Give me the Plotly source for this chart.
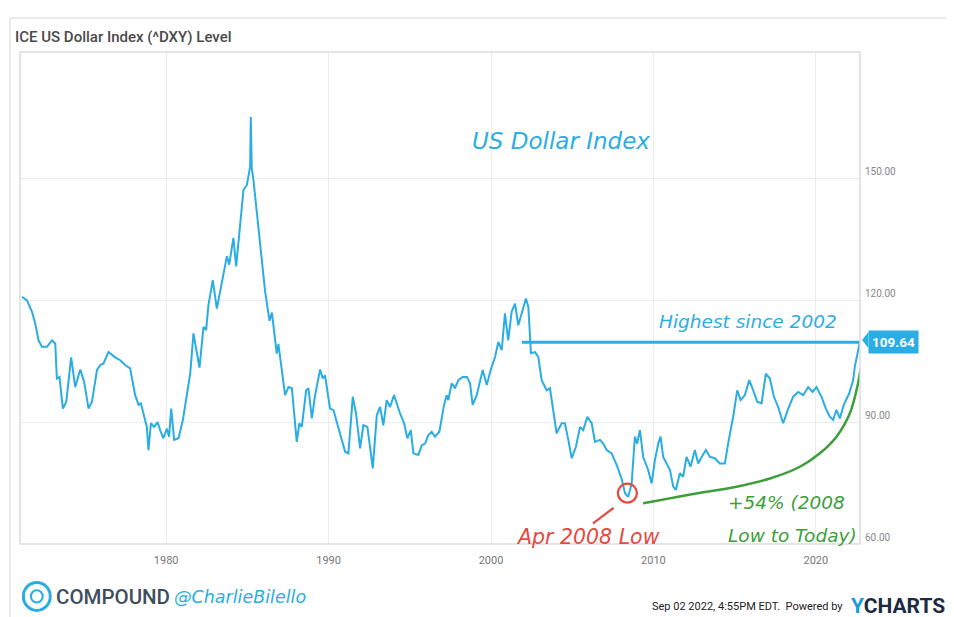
import plotly.graph_objects as go

# ---- data (decimal year, index level) ----
years = [1971.12, 1971.43, 1971.74, 1971.94, 1972.14, 1972.35, 1972.66, 1972.97, 1973.17, 1973.27,
         1973.43, 1973.64, 1973.85, 1974.15, 1974.40, 1974.71, 1974.95, 1975.22, 1975.43, 1975.74,
         1975.94, 1976.14, 1976.45, 1976.86, 1977.17, 1977.48, 1977.78, 1978.09, 1978.30, 1978.44,
         1978.65, 1978.81, 1978.91, 1979.06, 1979.26, 1979.47, 1979.63, 1979.83, 1980.04, 1980.18,
         1980.31, 1980.49, 1980.76, 1981.03, 1981.27, 1981.48, 1981.68, 1982.05, 1982.30, 1982.46,
         1982.60, 1982.87, 1983.12, 1983.32, 1983.57, 1983.74, 1983.88, 1984.14, 1984.31, 1984.62,
         1984.76, 1984.97, 1985.17, 1985.21, 1985.27, 1985.37, 1985.68, 1985.89, 1986.09, 1986.36,
         1986.51, 1986.81, 1986.91, 1987.32, 1987.53, 1987.74, 1988.04, 1988.20, 1988.35, 1988.62,
         1988.76, 1988.97, 1989.17, 1989.48, 1989.64, 1989.78, 1990.09, 1990.30, 1990.71, 1991.02,
         1991.22, 1991.49, 1991.69, 1991.94, 1992.14, 1992.39, 1992.55, 1992.72, 1992.97, 1993.17,
         1993.37, 1993.58, 1993.78, 1994.03, 1994.40, 1994.65, 1994.85, 1995.06, 1995.22, 1995.53,
         1995.74, 1995.94, 1996.14, 1996.35, 1996.55, 1996.82, 1997.11, 1997.27, 1997.37, 1997.58,
         1997.78, 1997.99, 1998.26, 1998.51, 1998.71, 1998.87, 1999.12, 1999.49, 1999.74, 1999.98,
         2000.25, 2000.45, 2000.66, 2000.86, 2001.06, 2001.27, 2001.48, 2001.68, 2001.89, 2002.15,
         2002.30, 2002.46, 2002.71, 2002.91, 2003.12, 2003.43, 2003.63, 2003.80, 2004.04, 2004.35,
         2004.55, 2004.76, 2004.97, 2005.23, 2005.48, 2005.68, 2005.93, 2006.20, 2006.40, 2006.71,
         2006.91, 2007.12, 2007.43, 2007.74, 2008.04, 2008.25, 2008.45, 2008.66, 2008.86, 2009.00,
         2009.17, 2009.37, 2009.68, 2009.89, 2010.09, 2010.30, 2010.44, 2010.60, 2010.81, 2011.02,
         2011.22, 2011.38, 2011.63, 2011.83, 2012.04, 2012.29, 2012.55, 2012.76, 2012.97, 2013.23,
         2013.48, 2013.78, 2014.09, 2014.40, 2014.60, 2014.91, 2015.16, 2015.37, 2015.63, 2015.90,
         2016.10, 2016.39, 2016.66, 2016.92, 2017.17, 2017.42, 2017.68, 2017.99, 2018.30, 2018.60,
         2018.91, 2019.22, 2019.53, 2019.80, 2020.04, 2020.35, 2020.62, 2020.86, 2021.07, 2021.27,
         2021.48, 2021.72, 2022.05, 2022.30, 2022.40, 2022.54, 2022.71]
dxy = [120.8, 119.9, 117.1, 114.2, 110.1, 108.5, 108.5, 110.1, 109.3, 100.7,
       101.1, 93.3, 95.0, 105.9, 98.6, 102.9, 99.9, 93.3, 95.0, 102.8,
       104.0, 104.4, 107.2, 105.9, 105.2, 104.0, 103.2, 96.6, 94.2, 94.6,
       91.3, 88.8, 83.1, 89.7, 88.8, 90.0, 88.0, 86.0, 88.4, 86.4,
       93.3, 85.6, 86.0, 90.5, 96.6, 101.9, 111.8, 103.4, 113.4, 112.6,
       118.7, 124.9, 117.9, 122.4, 127.0, 130.8, 128.7, 135.3, 128.3, 141.0,
       147.1, 148.3, 152.8, 165.0, 152.4, 149.6, 138.5, 130.4, 122.2, 114.9,
       116.9, 106.8, 109.2, 96.6, 98.6, 98.3, 85.1, 89.7, 88.8, 97.8,
       98.3, 90.9, 96.6, 102.9, 100.7, 101.5, 93.3, 92.9, 87.2, 82.7,
       82.3, 96.2, 92.1, 83.5, 89.2, 88.8, 83.9, 78.6, 91.7, 93.7,
       89.2, 95.4, 93.7, 96.6, 92.1, 89.7, 86.0, 88.0, 82.3, 81.9,
       84.3, 84.7, 86.8, 87.6, 86.4, 87.6, 94.2, 96.6, 95.4, 99.5,
       98.3, 100.3, 101.1, 101.1, 99.5, 94.2, 96.6, 102.8, 99.1, 102.8,
       106.0, 109.7, 107.7, 116.7, 110.1, 117.1, 119.1, 113.8, 116.7, 120.4,
       118.3, 106.9, 107.2, 106.0, 100.3, 97.8, 98.3, 93.3, 87.2, 89.7,
       89.7, 85.6, 81.1, 83.9, 88.8, 88.0, 91.3, 89.7, 85.1, 85.6,
       84.7, 83.1, 82.3, 79.4, 76.1, 72.5, 71.6, 74.9, 86.4, 84.7,
       88.0, 81.4, 78.2, 74.9, 80.6, 84.7, 86.4, 81.4, 79.8, 78.2,
       74.1, 73.3, 77.4, 76.5, 81.4, 79.0, 83.1, 79.8, 81.4, 83.1,
       81.4, 81.1, 79.8, 79.8, 84.7, 91.3, 97.8, 95.4, 96.6, 100.3,
       98.3, 95.0, 94.6, 101.9, 100.7, 96.2, 93.7, 89.7, 93.3, 96.2,
       97.4, 96.6, 98.6, 97.4, 98.6, 96.2, 93.3, 91.3, 90.5, 93.0,
       90.9, 94.2, 97.0, 100.3, 103.6, 106.0, 109.64]

x_tick_years = [1980, 1990, 2000, 2010, 2020]
x_tick_labels = ["1980", "1990", "2000", "2010", "2020"]
y_tick_values = [60, 90, 120, 150]
y_tick_labels = ["60.00", "90.00", "120.00", "150.00"]

last_value = 109.64
high_line_years = [2001.9, 2022.72]
high_line_values = [109.64, 109.64]

growth_years = [2009.37, 2012.04, 2015.12, 2017.17, 2019.02, 2020.25, 2021.27, 2022.09, 2022.60, 2022.75]
growth_values = [70.0, 72.0, 74.1, 76.1, 79.0, 82.3, 86.4, 92.1, 99.5, 103.0]

low_year = [2008.4]
low_value = [72.5]
pointer_years = [2006.28, 2007.55]
pointer_values = [65.1, 68.9]

BLUE = "#2aade3"
RED = "#e5493f"
GREEN = "#3d9e3a"
HAND = dict(family="DejaVu Sans", style="italic")

fig = go.Figure()
fig.add_trace(go.Scatter(x=years, y=dxy, mode="lines",
                         line=dict(color=BLUE, width=2), hoverinfo="skip"))
fig.add_trace(go.Scatter(x=high_line_years, y=high_line_values, mode="lines",
                         line=dict(color=BLUE, width=3), hoverinfo="skip"))
fig.add_trace(go.Scatter(x=growth_years, y=growth_values, mode="lines",
                         line=dict(color=GREEN, width=2.5, shape="spline"), hoverinfo="skip"))
fig.add_trace(go.Scatter(x=low_year, y=low_value, mode="markers",
                         marker=dict(symbol="circle-open", size=19, color=RED, line=dict(width=2.2, color=RED)),
                         hoverinfo="skip"))
fig.add_trace(go.Scatter(x=pointer_years, y=pointer_values, mode="lines",
                         line=dict(color=RED, width=2.2), hoverinfo="skip"))

annotations = [
    dict(x=2004.3, y=159.0, text="US Dollar Index", showarrow=False, xref="x", yref="y",
         font=dict(size=23, color=BLUE, **HAND)),
    dict(x=2015.8, y=114.6, text="Highest since 2002", showarrow=False, xref="x", yref="y",
         font=dict(size=18.5, color=BLUE, **HAND)),
    dict(x=2006.0, y=61.7, text="Apr 2008 Low", showarrow=False, xref="x", yref="y",
         font=dict(size=20.5, color=RED, **HAND)),
    dict(x=2014.45, y=70.3, text="+54% (2008", showarrow=False, xref="x", yref="y", xanchor="left",
         font=dict(size=18.5, color=GREEN, **HAND)),
    dict(x=2014.45, y=62.2, text="Low to Today)", showarrow=False, xref="x", yref="y", xanchor="left",
         font=dict(size=18.5, color=GREEN, **HAND)),
    dict(x=1.0095, y=last_value, xref="paper", yref="y", text="<b>%.2f</b>" % last_value,
         showarrow=False, xanchor="left", bgcolor=BLUE, borderpad=3,
         font=dict(size=13.5, color="white", family="Roboto")),
    dict(x=-0.0083, y=1.0305, xref="paper", yref="paper", xanchor="left", yanchor="middle",
         text="ICE US Dollar Index (^DXY) Level", showarrow=False,
         font=dict(size=15, color="#4a4a4a", family="Roboto", weight=500)),
    dict(x=0.040, y=-0.1077, xref="paper", yref="paper", xanchor="left", yanchor="middle",
         text="COMPOUND", showarrow=False,
         font=dict(size=20.5, color="#3e4e5e", family="Roboto", weight=500)),
    dict(x=0.181, y=-0.1077, xref="paper", yref="paper", xanchor="left", yanchor="middle",
         text="@CharlieBilello", showarrow=False,
         font=dict(size=17.5, color=BLUE, **HAND)),
    dict(x=0.982, y=-0.128, xref="paper", yref="paper", xanchor="right", yanchor="middle",
         text="Sep 02 2022, 4:55PM EDT.  Powered by", showarrow=False,
         font=dict(size=11, color="#222", family="Roboto")),
    dict(x=1.104, y=-0.126, xref="paper", yref="paper", xanchor="right", yanchor="middle",
         text="<b><span style='color:#1b9ad6'>Y</span><span style='color:#1d2a44'>CHARTS</span></b>",
         showarrow=False, font=dict(size=21, family="Roboto")),
]

shapes = [
    # outer frame of the screenshot
    dict(type="rect", xref="paper", yref="paper", x0=-0.012, x1=1.2, y0=-0.3, y1=1.069,
         line=dict(color="#d6d6d6", width=1), layer="below"),
    # plot frame
    dict(type="rect", xref="paper", yref="paper", x0=0, x1=1, y0=0, y1=1,
         line=dict(color="#dcdcdc", width=1.5)),
    # pointer of the last-value tag
    dict(type="path", xref="paper", yref="paper",
         path="M 1.0025,0.4146 L 1.0100,0.4310 L 1.0100,0.3980 Z",
         fillcolor=BLUE, line=dict(width=0)),
    # compound logo
    dict(type="circle", xref="paper", yref="paper", x0=0.004, x1=0.036, y0=-0.135, y1=-0.078,
         line=dict(color=BLUE, width=3)),
    dict(type="circle", xref="paper", yref="paper", x0=0.013, x1=0.027, y0=-0.119, y1=-0.094,
         line=dict(color=BLUE, width=2)),
]

fig.update_layout(
    width=946, height=609, autosize=False,
    margin=dict(l=12, r=94, t=44, b=73),
    paper_bgcolor="white", plot_bgcolor="white",
    showlegend=False,
    annotations=annotations, shapes=shapes,
    xaxis=dict(range=[1971.0, 2022.72], tickvals=x_tick_years, ticktext=x_tick_labels,
               showgrid=True, gridcolor="#ececec", gridwidth=1, zeroline=False,
               showline=False, ticks="", ticklabelstandoff=8,
               tickfont=dict(size=11, color="#777", family="Roboto")),
    yaxis=dict(range=[60, 181], side="right", tickvals=y_tick_values, ticktext=y_tick_labels,
               showgrid=True, gridcolor="#ececec", gridwidth=1, zeroline=False,
               showline=False, ticks="", ticklabelshift=-7, ticklabelstandoff=4,
               tickfont=dict(size=10, color="#888", family="Roboto")),
)

fig.write_html("out.html")
